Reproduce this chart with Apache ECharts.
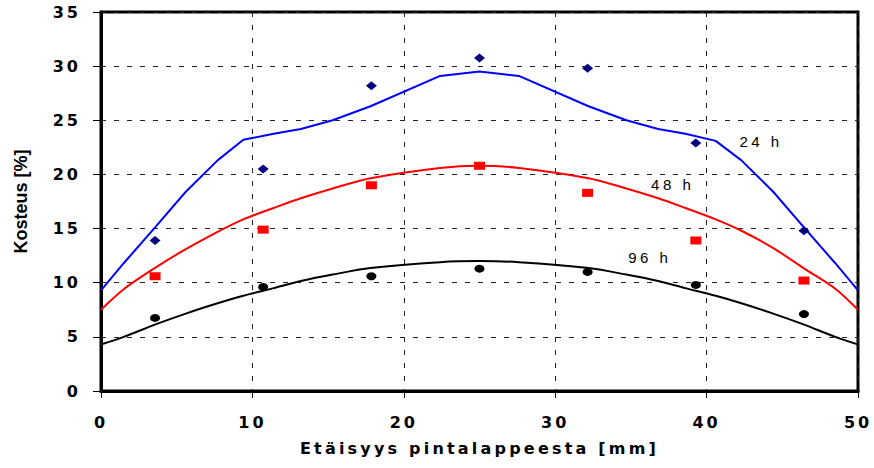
<!DOCTYPE html>
<html><head><meta charset="utf-8">
<script src="https://cdn.jsdelivr.net/npm/echarts@6/dist/echarts.min.js"></script>
<style>html,body{margin:0;padding:0;background:#fff}#c{width:874px;height:468px}</style>
</head><body><div id="c"></div>
<script>
// Fitted model curves (x in mm, moisture in %)
const fitX = [0, 1.5, 3.6, 5.6, 7.7, 9.4, 11.4, 13.2, 15.3, 17.8, 22.4, 25, 27.6, 32.2, 34.7, 36.8, 38.6, 40.6, 42.3, 44.4, 46.4, 48.5, 50];
const fit24 = [9.3, 11.8, 15.15, 18.4, 21.3, 23.2, 23.75, 24.2, 25.0, 26.3, 29.1, 29.5, 29.1, 26.3, 25.0, 24.2, 23.75, 23.1, 21.3, 18.4, 15.15, 11.8, 9.3];
const fit48 = [7.5, 9.4, 11.4, 13.1, 14.7, 15.85, 16.9, 17.8, 18.7, 19.65, 20.6, 20.8, 20.6, 19.65, 18.7, 17.8, 16.9, 15.85, 14.8, 13.2, 11.35, 9.45, 7.5];
const fit96 = [4.3, 5.0, 6.15, 7.15, 8.1, 8.8, 9.5, 10.15, 10.75, 11.35, 11.9, 12.0, 11.9, 11.35, 10.75, 10.15, 9.5, 8.8, 8.1, 7.15, 6.15, 5.0, 4.3];
// Measured points
const measX = [3.57, 10.71, 17.86, 25, 32.14, 39.29, 46.43];
const meas24 = [13.9, 20.5, 28.2, 30.75, 29.8, 22.9, 14.8];
const meas48 = [10.6, 14.9, 19.0, 20.8, 18.3, 13.9, 10.2];
const meas96 = [6.75, 9.6, 10.6, 11.3, 11.0, 9.8, 7.1];
const curveNames = ['24 h', '48 h', '96 h'];
const xName = 'Etäisyys pintalappeesta [mm]';
const yName = 'Kosteus [%]';

const pair = (xs, ys) => xs.map((x, i) => [x, ys[i]]);

const chart = echarts.init(document.getElementById('c'), null, {renderer: 'svg'});

function lineSeries(ys, color, smooth, label, coord) {
  return {
    type: 'line', data: pair(fitX, ys), showSymbol: false, smooth: smooth,
    lineStyle: {color: color, width: 2}, z: 2, silent: true,
    markPoint: {
      symbol: 'circle', symbolSize: 0, silent: true,
      label: {show: true, position: 'inside', formatter: label, color: '#000',
              fontFamily: 'Liberation Sans', fontSize: 15, fontWeight: 'normal'},
      data: [{coord: coord}]
    }
  };
}
function pointSeries(ys, color, symbol, size) {
  return {type: 'scatter', data: pair(measX, ys), symbol: symbol, symbolSize: size,
          itemStyle: {color: color, opacity: 1}, z: 5, silent: true};
}

chart.setOption({
  animation: false,
  backgroundColor: '#fff',
  grid: {left: 101, right: 16, top: 12, bottom: 77, show: true, borderColor: '#000', borderWidth: 3, backgroundColor: 'transparent'},
  xAxis: {
    type: 'value', min: 0, max: 50, interval: 10,
    name: xName, nameLocation: 'middle', nameGap: 49,
    nameTextStyle: {fontFamily: 'DejaVu Sans', fontWeight: 'bold', fontSize: 16, color: '#000'},
    axisLine: {show: true, lineStyle: {color: '#000', width: 3}},
    axisTick: {show: true, length: 7, lineStyle: {color: '#000', width: 1}},
    axisLabel: {margin: 23, color: '#000', fontFamily: 'DejaVu Sans', fontWeight: 'bold', fontSize: 16},
    splitLine: {show: true, lineStyle: {color: '#222', width: 1, type: [5, 8]}}
  },
  yAxis: {
    type: 'value', min: 0, max: 35, interval: 5,
    name: yName, nameLocation: 'middle', nameGap: 71, nameRotate: 90,
    nameTextStyle: {fontFamily: 'Liberation Sans', fontWeight: 'bold', fontSize: 18, color: '#000'},
    axisLine: {show: true, lineStyle: {color: '#000', width: 3}},
    axisTick: {show: true, length: 8, lineStyle: {color: '#000', width: 1}},
    axisLabel: {margin: 20, color: '#000', fontFamily: 'DejaVu Sans', fontWeight: 'bold', fontSize: 16, padding: [3, 0, 0, 0]},
    splitLine: {show: true, lineStyle: {color: '#222', width: 1, type: [5, 8]}}
  },
  series: [
    lineSeries(fit24, '#0000ff', false, curveNames[0], [43.6, 23.0]),
    lineSeries(fit48, '#ff0000', 0.3, curveNames[1], [37.76, 19.08]),
    lineSeries(fit96, '#000000', 0.3, curveNames[2], [36.25, 12.3]),
    pointSeries(meas24, '#000080', 'diamond', [11, 9]),
    pointSeries(meas48, '#ff0000', 'rect', [11, 8]),
    pointSeries(meas96, '#000000', 'circle', [10, 8])
  ]
});

function spaceText() {
  document.querySelectorAll('#c text').forEach(t => {
    const s = t.textContent.trim();
    let ls = null;
    if (/^\d+$/.test(s)) ls = '3px';
    else if (s.indexOf('Etäisyys') === 0) ls = '3.2px';
    else if (/ h$/.test(s)) ls = '3.5px';
    if (ls) t.style.letterSpacing = ls;
  });
}
chart.on('finished', spaceText);
setTimeout(spaceText, 50);
setTimeout(spaceText, 300);
</script></body></html>
